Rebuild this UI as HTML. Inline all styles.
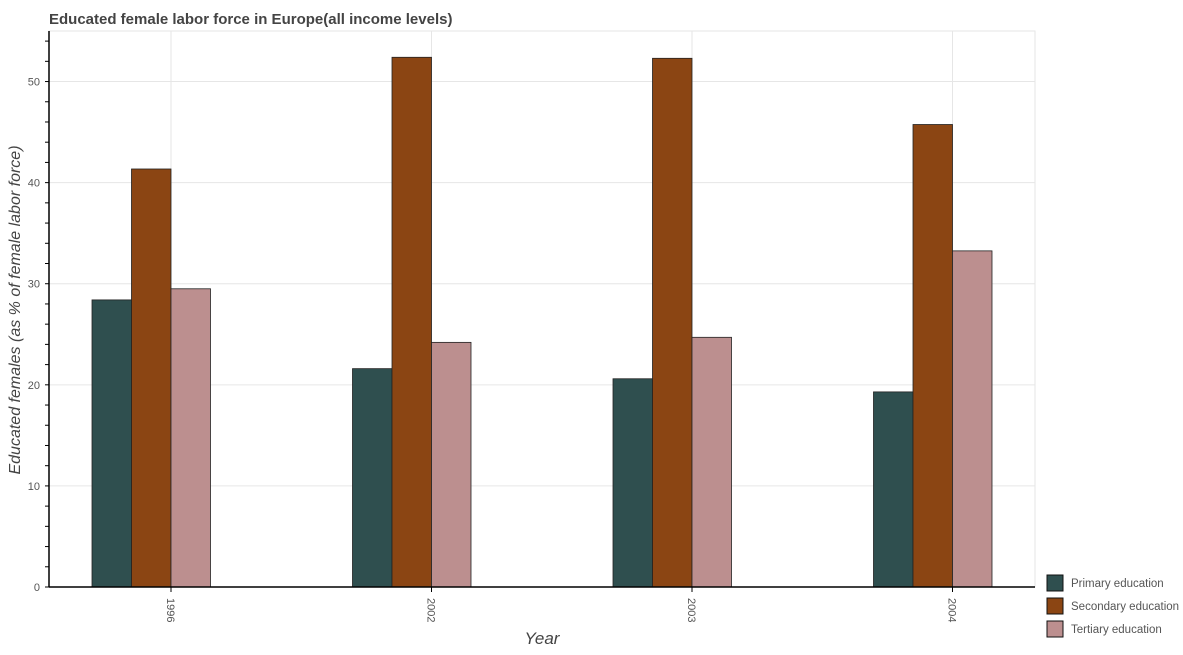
<!DOCTYPE html>
<html><head><meta charset="utf-8"><style>
body{margin:0;background:#fff;font-family:"Liberation Sans",sans-serif;}
</style></head><body>
<svg id="chart" width="1183" height="650" xmlns="http://www.w3.org/2000/svg" font-family="Liberation Sans, sans-serif">
<text x="49" y="24" font-size="15" font-weight="bold" fill="#444">Educated female labor force in Europe(all income levels)</text>
<g id="grid"></g>
<g id="bars"></g>
<g id="axes"></g>
<text x="542" y="644" text-anchor="middle" font-size="17" font-style="italic" fill="#444">Year</text>
<text transform="translate(20,310) rotate(-90)" text-anchor="middle" font-size="16" font-style="italic" fill="#444">Educated females (as % of female labor force)</text>
<g id="legend"></g>
</svg>
<script>
const categories = ["1996","2002","2003","2004"];
const primary = [28.4, 21.6, 20.6, 19.3];
const secondary = [41.35, 52.4, 52.3, 45.75];
const tertiary = [29.5, 24.2, 24.7, 33.25];
const yTicks = [0,10,20,30,40,50];
const seriesNames = ["Primary education","Secondary education","Tertiary education"];
const colors = ["#2f4f4f","#8b4513","#bc8f8f"];
const NS="http://www.w3.org/2000/svg";
const L=49,R=1035,T=31,B=587,yMax=55;
const y=v=>B-(v/yMax)*(B-T);
const x0=171,step=260.5;
const xc=i=>x0+i*step;
const bw=39.5;
function mk(t,a,p){const e=document.createElementNS(NS,t);for(const k in a)e.setAttribute(k,a[k]);p.appendChild(e);return e;}
const grid=document.getElementById('grid'),axes=document.getElementById('axes'),bars=document.getElementById('bars'),leg=document.getElementById('legend');
const frame=mk('rect',{x:L,y:T,width:R-L,height:B-T,fill:'none',stroke:'#e6e6e6'},grid);


yTicks.forEach(v=>{
 const l=mk('line',{x1:L,x2:R,y1:y(v),y2:y(v),stroke:'#e6e6e6'},grid);
 
 
 const t=mk('text',{x:L-9,y:y(v)+4,'text-anchor':'end','font-size':11,fill:'#555'},axes);t.textContent=v;
 
 
});
for(let v=0;v<=yMax;v+=2){
 const m=mk('line',{x1:L-4,x2:L,y1:y(v),y2:y(v),stroke:'#000'},axes);
 
 
}
const ya=mk('line',{x1:L,x2:L,y1:T,y2:B,stroke:'#000','stroke-width':1.5},axes);


const xa=mk('line',{x1:L,x2:R,y1:B,y2:B,stroke:'#000','stroke-width':1.5},axes);


categories.forEach((c,i)=>{
 const cx=xc(i);
 const gl=mk('line',{x1:cx,x2:cx,y1:T,y2:B,stroke:'#e6e6e6'},grid);
 
 
 [primary,secondary,tertiary].forEach((s,j)=>{
  const x=cx-2*bw+j*bw;
  const r=mk('rect',{x:x,y:y(s[i]),width:bw,height:B-y(s[i]),fill:colors[j],stroke:'#222','stroke-width':0.8},bars);
  
  
 });
 const tk=mk('line',{x1:cx,x2:cx,y1:B,y2:B+5,stroke:'#000'},axes);
 
 
 const t=mk('text',{x:0,y:0,'font-size':11,fill:'#555',transform:`translate(${cx-4},598) rotate(90)`},axes);t.textContent=c;
 
 
});
seriesNames.forEach((n,j)=>{
 const yy=575+j*23;
 const r=mk('rect',{x:1047,y:yy,width:16,height:16,fill:colors[j],stroke:'#111','stroke-width':1},leg);
 
 
 const t=mk('text',{x:1071,y:yy+12,'font-size':11.5,fill:'#555'},leg);t.textContent=n;
 
 
});
</script>
</body></html>
